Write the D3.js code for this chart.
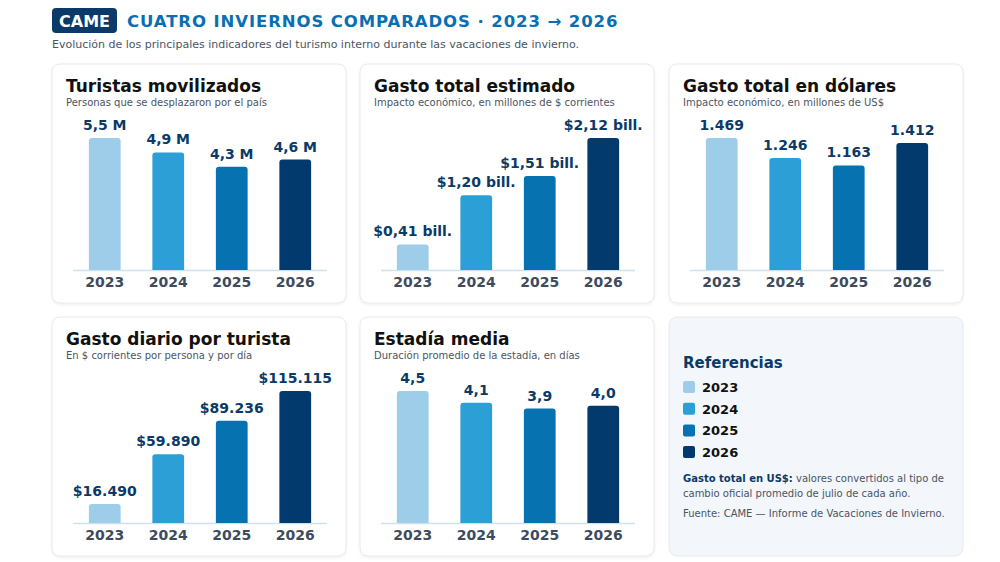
<!DOCTYPE html>
<html><head><meta charset="utf-8">
<script src="https://cdn.jsdelivr.net/npm/d3@7"></script>
<style>body{margin:0;background:#fff;font-family:"DejaVu Sans",sans-serif}</style>
</head><body>
<script>
const years = ["2023", "2024", "2025", "2026"];
const colors = ["#9dcde9", "#2b9fd6", "#0672b0", "#033a6d"];

const turistas = [5.5, 4.9, 4.3, 4.6];
const turistasLabels = ["5,5 M", "4,9 M", "4,3 M", "4,6 M"];
const gasto = [0.41, 1.20, 1.51, 2.12];
const gastoLabels = ["$0,41 bill.", "$1,20 bill.", "$1,51 bill.", "$2,12 bill."];
const dolares = [1469, 1246, 1163, 1412];
const dolaresLabels = ["1.469", "1.246", "1.163", "1.412"];
const diario = [16490, 59890, 89236, 115115];
const diarioLabels = ["$16.490", "$59.890", "$89.236", "$115.115"];
const estadia = [4.5, 4.1, 3.9, 4.0];
const estadiaLabels = ["4,5", "4,1", "3,9", "4,0"];

const panels = [
  {x: 52, y: 64, title: "Turistas movilizados", sub: "Personas que se desplazaron por el país", values: turistas, labels: turistasLabels},
  {x: 360, y: 64, title: "Gasto total estimado", sub: "Impacto económico, en millones de $ corrientes", values: gasto, labels: gastoLabels},
  {x: 669, y: 64, title: "Gasto total en dólares", sub: "Impacto económico, en millones de US$", values: dolares, labels: dolaresLabels},
  {x: 52, y: 317, title: "Gasto diario por turista", sub: "En $ corrientes por persona y por día", values: diario, labels: diarioLabels},
  {x: 360, y: 317, title: "Estadía media", sub: "Duración promedio de la estadía, en días", values: estadia, labels: estadiaLabels}
];

const W = 1000, H = 562, pw = 294, ph = 239;
const svg = d3.select("body").append("svg").attr("width", W).attr("height", H);

const defs = svg.append("defs");
const f = defs.append("filter").attr("id", "sh").attr("x", "-5%").attr("y", "-5%").attr("width", "110%").attr("height", "115%");
f.append("feDropShadow").attr("dx", 0).attr("dy", 1).attr("stdDeviation", 1.5).attr("flood-color", "#000").attr("flood-opacity", 0.08);

// header
svg.append("rect").attr("x", 52).attr("y", 8).attr("width", 65).attr("height", 25).attr("rx", 4).attr("fill", "#0b3a68");
svg.append("text").attr("x", 84.5).attr("y", 26.5).attr("text-anchor", "middle").attr("fill", "#fff")
   .attr("font-size", 16).attr("font-weight", "bold").text("CAME");
svg.append("text").attr("x", 127).attr("y", 26.5).attr("fill", "#0a6fb2").attr("font-size", 16.5)
   .attr("font-weight", "bold").attr("letter-spacing", 0.9).text("CUATRO INVIERNOS COMPARADOS · 2023 → 2026");
svg.append("text").attr("x", 52).attr("y", 48).attr("fill", "#4a5563").attr("font-size", 11)
   .text("Evolución de los principales indicadores del turismo interno durante las vacaciones de invierno.");

panels.forEach(p => {
  const g = svg.append("g").attr("transform", `translate(${p.x},${p.y})`);
  g.append("rect").attr("width", pw).attr("height", ph).attr("rx", 8).attr("fill", "#fff")
   .attr("stroke", "#e6eaef").attr("filter", "url(#sh)");
  g.append("text").attr("x", 14).attr("y", 28).attr("font-size", 17).attr("font-weight", "bold")
   .attr("fill", "#111").text(p.title);
  g.append("text").attr("x", 14).attr("y", 42).attr("font-size", 10).attr("fill", "#4a5563").text(p.sub);

  const x = d3.scaleBand().domain(years).range([21, 275]).paddingInner(0.5).paddingOuter(0.25);
  const y = d3.scaleLinear().domain([0, d3.max(p.values)]).range([206, 74]);

  g.append("line").attr("x1", 21).attr("x2", 275).attr("y1", 206.5).attr("y2", 206.5)
   .attr("stroke", "#cfe1ee").attr("stroke-width", 1.5);

  g.selectAll("path.bar").data(p.values).enter().append("path").attr("class", "bar")
   .attr("fill", (d, i) => colors[i])
   .attr("d", (d, i) => {
     const x0 = x(years[i]), w = x.bandwidth(), y0 = y(d), r = 3;
     return `M${x0},206 V${y0 + r} Q${x0},${y0} ${x0 + r},${y0} H${x0 + w - r} Q${x0 + w},${y0} ${x0 + w},${y0 + r} V206 Z`;
   });

  g.selectAll("text.val").data(p.values).enter().append("text").attr("class", "val")
   .attr("x", (d, i) => x(years[i]) + x.bandwidth() / 2).attr("y", d => y(d) - 8)
   .attr("text-anchor", "middle").attr("font-size", 14).attr("font-weight", "bold").attr("fill", "#0b3a68")
   .text((d, i) => p.labels[i]);

  g.selectAll("text.yr").data(years).enter().append("text").attr("class", "yr")
   .attr("x", d => x(d) + x.bandwidth() / 2).attr("y", 223)
   .attr("text-anchor", "middle").attr("font-size", 14).attr("font-weight", "bold").attr("fill", "#3d4b5c")
   .text(d => d);
});

// legend panel
const lg = svg.append("g").attr("transform", "translate(669,317)");
lg.append("rect").attr("width", pw).attr("height", ph).attr("rx", 8).attr("fill", "#f3f7fb").attr("stroke", "#e6eaef");
lg.append("text").attr("x", 14).attr("y", 51).attr("font-size", 15).attr("font-weight", "bold")
  .attr("fill", "#0b3a68").text("Referencias");
years.forEach((yr, i) => {
  const yy = 64 + i * 21.7;
  lg.append("rect").attr("x", 14).attr("y", yy).attr("width", 12).attr("height", 12).attr("rx", 2).attr("fill", colors[i]);
  lg.append("text").attr("x", 33).attr("y", yy + 11).attr("font-size", 13).attr("font-weight", "bold")
    .attr("fill", "#111").text(yr);
});
const n1 = lg.append("text").attr("x", 14).attr("y", 165).attr("font-size", 10).attr("fill", "#4a5563");
n1.append("tspan").attr("font-weight", "bold").attr("fill", "#0b3a68").text("Gasto total en US$:");
n1.append("tspan").text(" valores convertidos al tipo de");
lg.append("text").attr("x", 14).attr("y", 180).attr("font-size", 10).attr("fill", "#4a5563")
  .text("cambio oficial promedio de julio de cada año.");
lg.append("text").attr("x", 14).attr("y", 200).attr("font-size", 10).attr("fill", "#4a5563")
  .text("Fuente: CAME — Informe de Vacaciones de Invierno.");
</script>
</body></html>
